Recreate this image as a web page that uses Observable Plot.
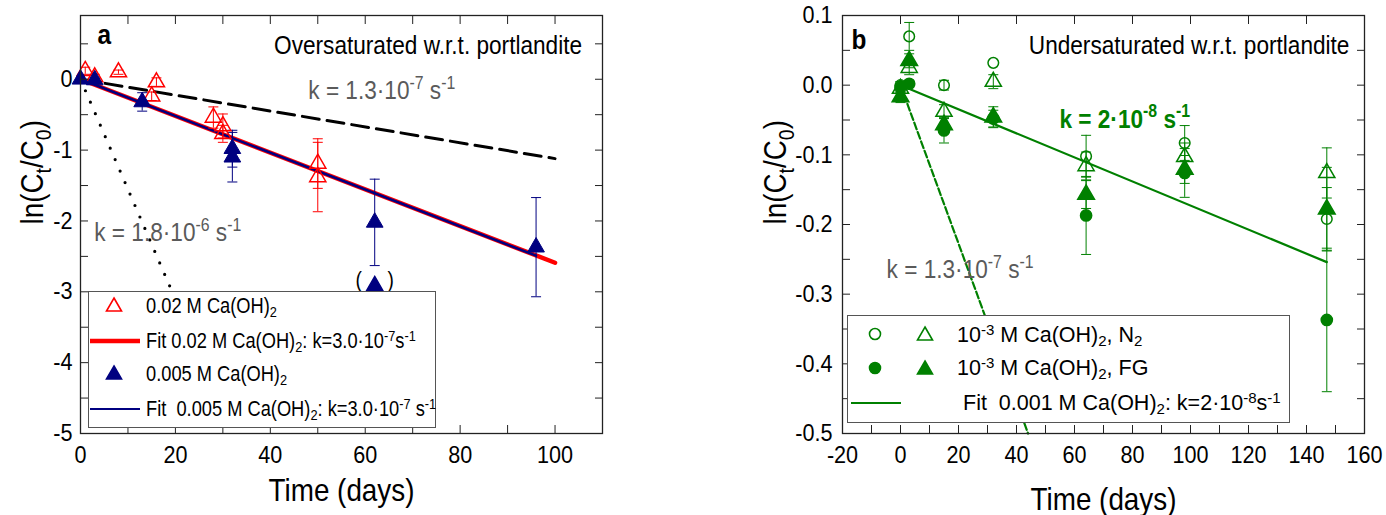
<!DOCTYPE html>
<html><head><meta charset="utf-8">
<script src="https://cdn.jsdelivr.net/npm/d3@7"></script>
<script src="https://cdn.jsdelivr.net/npm/@observablehq/plot@0.6"></script>
<style>
body{margin:0;background:#fff;}
#root{position:relative;width:1386px;height:515px;overflow:hidden;font-family:'Liberation Sans Narrow','Liberation Sans',Arial,sans-serif;color:#000;}
.panel{position:absolute;top:0;}
.legend{position:absolute;background:#fff;border:1px solid #555;box-sizing:border-box;}
.ltxt{position:absolute;white-space:nowrap;line-height:1;font-size:22px;transform:translateY(-50%) scaleX(0.83);transform-origin:0 50%;}
.ltxt.wide{transform:translateY(-50%);font-size:21.5px;}
.lsym{position:absolute;overflow:visible;}
sup{font-size:70%;vertical-align:0.45em;line-height:0;}
sub{font-size:70%;vertical-align:-0.28em;line-height:0;}
</style></head>
<body><div id="root"></div>
<script>
const FONT = "'Liberation Sans Narrow','Liberation Sans',Arial,sans-serif";
const RED = "#ff0000", NAVY = "#000080", GREEN = "#008000", GRAY = "#5a5a5a";

// ---------- Panel a data ----------
const aRedDays = [1, 3, 8, 15, 16, 28, 30, 30, 50, 50];
const aRedLn   = [0.12, 0.03, 0.10, -0.24, -0.04, -0.54, -0.66, -0.77, -1.19, -1.38];
const aRedErr  = [0.05, 0.04, 0.03, 0.06, 0.06, 0.15, 0.17, 0.12, 0.35, 0.49];
const aBlueDays = [0, 3, 13, 32, 32, 62, 96];
const aBlueLn   = [0.0, -0.01, -0.32, -0.98, -1.10, -2.02, -2.37];
const aBlueErr  = [0.0, 0.03, 0.13, 0.26, 0.35, 0.61, 0.70];
const aOutlierDays = [62];
const aOutlierLn   = [-2.92];
const aFitRedDays  = [0, 100];  const aFitRedLn  = [0, -2.59];
const aFitBlueDays = [0, 96];   const aFitBlueLn = [0, -2.49];
const aSlowDays    = [0, 100];  const aSlowLn    = [0, -1.12];
const aFastDays    = [0, 32.2]; const aFastLn    = [0, -5.0];
const aXLabels = [0, 20, 40, 60, 80, 100];
const aXTicks  = [0, 10, 20, 30, 40, 50, 60, 70, 80, 90, 100, 110];
const aYLabels = [0, -1, -2, -3, -4, -5];
const aYTicks  = [0.5, 0, -0.5, -1, -1.5, -2, -2.5, -3, -3.5, -4, -4.5, -5];

// ---------- Panel b data ----------
const bN2CircDays = [0, 3, 15, 32, 64, 98, 147];
const bN2CircLn   = [0.0, 0.07, 0.0, 0.032, -0.102, -0.083, -0.192];
const bN2CircErr  = [0.005, 0.02, 0.007, 0, 0.03, 0.025, 0.045];
const bN2TriDays  = [0, 3, 15, 32, 64, 98, 147];
const bN2TriLn    = [-0.005, 0.025, -0.038, 0.005, -0.116, -0.103, -0.126];
const bN2TriErr   = [0.005, 0.01, 0.01, 0.01, 0.02, 0.02, 0.036];
const bFGCircDays = [0, 3, 15, 32, 64, 98, 147];
const bFGCircLn   = [-0.003, 0.002, -0.065, -0.048, -0.187, -0.126, -0.337];
const bFGCircErr  = [0.008, 0.005, 0.018, 0.012, 0.056, 0.035, 0.103];
const bFGTriDays  = [0, 3, 15, 32, 64, 98, 147];
const bFGTriLn    = [-0.017, 0.035, -0.057, -0.046, -0.157, -0.121, -0.178];
const bFGTriErr   = [0.008, 0.01, 0.01, 0.015, 0.02, 0.02, 0.06];
const bFitDays  = [0, 147]; const bFitLn  = [0, -0.254];
const bFastDays = [0, 44];  const bFastLn = [0, -0.5];
const bXLabels = [-20, 0, 20, 40, 60, 80, 100, 120, 140, 160];
const bXTicks  = [-20,-10,0,10,20,30,40,50,60,70,80,90,100,110,120,130,140,150,160];
const bXTopTicks = [-20, 0, 20, 40, 60, 80, 100, 120, 140, 160];
const bYLabels = [0.1, 0, -0.1, -0.2, -0.3, -0.4, -0.5];
const bYTicks  = [0.1,0.05,0,-0.05,-0.1,-0.15,-0.2,-0.25,-0.3,-0.35,-0.4,-0.45,-0.5];

// ---------- helpers ----------
const pts = (xs, ys, es) => xs.map((x, i) => ({x, y: ys[i], e: es ? es[i] : 0}));
const caps = (data) => data.filter(d => d.e > 0).flatMap(d => [{x: d.x, y: d.y + d.e}, {x: d.x, y: d.y - d.e}]);
const capSymbol = {draw(ctx, size) { const w = Math.sqrt(size / Math.PI); ctx.moveTo(-w, 0); ctx.lineTo(w, 0); }};
function errMarks(data, color, w = 1) {
  return [
    Plot.ruleX(data.filter(d => d.e > 0), {x: "x", y1: d => d.y - d.e, y2: d => d.y + d.e, stroke: color, strokeWidth: w}),
    Plot.dot(caps(data), {x: "x", y: "y", symbol: capSymbol, r: 5, stroke: color, fill: "none", strokeWidth: w})
  ];
}
function frameAxes(xLabels, xTicks, xTopTicks, yLabels, yTicks, yFmt, yPad) {
  return [
    Plot.frame({stroke: "#222", strokeWidth: 1.3}),
    Plot.axisX(xTicks, {anchor: "bottom", tickSize: -8, tickFormat: () => "", label: null, stroke: "#222"}),
    Plot.axisX(xTopTicks, {anchor: "top", tickSize: -8, tickFormat: () => "", label: null, stroke: "#222"}),
    Plot.axisY(yTicks, {anchor: "left", tickSize: -8, tickFormat: () => "", label: null, stroke: "#222"}),
    Plot.axisY(yTicks, {anchor: "right", tickSize: -8, tickFormat: () => "", label: null, stroke: "#222"}),
    Plot.axisX(xLabels, {anchor: "bottom", tickSize: 0, tickPadding: 12, tickFormat: d => String(d), label: null, fontSize: 24, fill: "#000", className: "ticklab"}),
    Plot.axisY(yLabels, {anchor: "left", tickSize: 0, tickPadding: yPad, tickFormat: yFmt, label: null, fontSize: 24, fill: "#000", className: "ticklab"})
  ];
}
function note(text, x, y, opts) {
  return Plot.text([text], {x: [x], y: [y], text: d => d, lineAnchor: "middle", ...opts});
}
function rich(svg) {
  svg.querySelectorAll("text").forEach(t => {
    if (t.querySelector("tspan")) return;
    const s = t.textContent;
    if (!/[\^_]\{/.test(s)) return;
    const F = parseFloat(getComputedStyle(t).fontSize) || 24;
    t.textContent = "";
    let shift = 0;
    for (const p of s.split(/([\^_]\{[^}]*\})/)) {
      if (!p) continue;
      const ts = document.createElementNS("http://www.w3.org/2000/svg", "tspan");
      let target = 0, txt = p, small = false;
      if (p.startsWith("^{")) { target = -0.4 * F; txt = p.slice(2, -1); small = true; }
      else if (p.startsWith("_{")) { target = 0.25 * F; txt = p.slice(2, -1); small = true; }
      const dy = target - shift;
      if (dy) ts.setAttribute("dy", dy);
      shift = target;
      if (small) ts.setAttribute("font-size", 0.7 * F);
      ts.textContent = txt;
      t.appendChild(ts);
    }
  });
}
// Narrow-font look: compress each text horizontally (no narrow face is installed)
function condense(svg) {
  svg.querySelectorAll("text").forEach(t => {
    if (!t.textContent.trim()) return;
    const inTicks = t.closest(".ticklab") || (t.parentNode && t.parentNode.getAttribute && /ticklab/.test(t.parentNode.getAttribute("class") || ""));
    const f = inTicks ? 0.9 : 0.87;
    const L = t.getComputedTextLength();
    if (L > 0) { t.setAttribute("textLength", (L * f).toFixed(2)); t.setAttribute("lengthAdjust", "spacingAndGlyphs"); }
  });
}

// ---------- Panel a ----------
const aRed = pts(aRedDays, aRedLn, aRedErr);
const aBlue = pts(aBlueDays, aBlueLn, aBlueErr);
const plotA = Plot.plot({
  width: 693, height: 515,
  marginLeft: 80, marginRight: 91, marginTop: 15, marginBottom: 82,
  x: {domain: [0, 110]},
  y: {domain: [-5, 0.9]},
  style: {fontFamily: FONT, fontSize: "24px", color: "#000", background: "transparent", overflow: "visible"},
  marks: [
    Plot.line(pts(aFastDays, aFastLn), {x: "x", y: "y", stroke: "#000", strokeWidth: 3.2, strokeDasharray: "0,12.5", strokeLinecap: "round"}),
    Plot.line(pts(aSlowDays, aSlowLn), {x: "x", y: "y", stroke: "#000", strokeWidth: 3, strokeDasharray: "17,8"}),
    Plot.line(pts(aFitRedDays, aFitRedLn), {x: "x", y: "y", stroke: RED, strokeWidth: 4.5}),
    Plot.line(pts(aFitBlueDays, aFitBlueLn), {x: "x", y: "y", stroke: NAVY, strokeWidth: 2.5}),
    ...errMarks(aRed, RED),
    ...errMarks(aBlue, NAVY),
    Plot.dot(aRed, {x: "x", y: "y", symbol: "triangle", r: 6, stroke: RED, fill: "none", strokeWidth: 1.5}),
    Plot.dot(aBlue, {x: "x", y: "y", symbol: "triangle", r: 6.2, fill: NAVY, stroke: NAVY, strokeWidth: 1}),
    Plot.dot(pts(aOutlierDays, aOutlierLn), {x: "x", y: "y", symbol: "triangle", r: 6.2, fill: NAVY, stroke: NAVY}),
    Plot.text(pts(aOutlierDays, aOutlierLn), {x: "x", y: "y", text: () => "(", dx: -16, dy: -6, fontSize: 22, lineAnchor: "middle"}),
    Plot.text(pts(aOutlierDays, aOutlierLn), {x: "x", y: "y", text: () => ")", dx: 16, dy: -6, fontSize: 22, lineAnchor: "middle"}),
    ...frameAxes(aXLabels, aXTicks, aXTicks, aYLabels, aYTicks, d => String(d), 8),
    note("a", 3.6, 0.63, {textAnchor: "start", fontSize: 28, fontWeight: "bold"}),
    note("Oversaturated w.r.t. portlandite", 105.7, 0.476, {textAnchor: "end", fontSize: 26}),
    note("k = 1.3·10^{-7} s^{-1}", 48, -0.16, {textAnchor: "start", fontSize: 26, fill: GRAY}),
    note("k = 1.8·10^{-6} s^{-1}", 2.9, -2.17, {textAnchor: "start", fontSize: 26, fill: GRAY}),
    Plot.text(["ln(C_{t}/C_{0})"], {frameAnchor: "left", dx: -48, rotate: -90, fontSize: 32, lineAnchor: "middle", text: d => d}),
    Plot.text(["Time (days)"], {frameAnchor: "bottom", dy: 57, fontSize: 32, lineAnchor: "middle", text: d => d})
  ]
});

// ---------- Panel b ----------
const bN2C = pts(bN2CircDays, bN2CircLn, bN2CircErr);
const bN2T = pts(bN2TriDays, bN2TriLn, bN2TriErr);
const bFGC = pts(bFGCircDays, bFGCircLn, bFGCircErr);
const bFGT = pts(bFGTriDays, bFGTriLn, bFGTriErr);
const plotB = Plot.plot({
  width: 693, height: 515,
  marginLeft: 149, marginRight: 22, marginTop: 15, marginBottom: 82,
  x: {domain: [-20, 160]},
  y: {domain: [-0.5, 0.1]},
  style: {fontFamily: FONT, fontSize: "24px", color: "#000", background: "transparent", overflow: "visible"},
  marks: [
    Plot.line(pts(bFastDays, bFastLn), {x: "x", y: "y", stroke: GREEN, strokeWidth: 2.2, strokeDasharray: "7,3"}),
    Plot.line(pts(bFitDays, bFitLn), {x: "x", y: "y", stroke: GREEN, strokeWidth: 2.2}),
    ...errMarks(bN2C, GREEN), ...errMarks(bN2T, GREEN), ...errMarks(bFGC, GREEN), ...errMarks(bFGT, GREEN),
    Plot.dot(bN2C, {x: "x", y: "y", symbol: "circle", r: 5.3, stroke: GREEN, fill: "none", strokeWidth: 1.5}),
    Plot.dot(bN2T, {x: "x", y: "y", symbol: "triangle", r: 6, stroke: GREEN, fill: "none", strokeWidth: 1.5}),
    Plot.dot(bFGC, {x: "x", y: "y", symbol: "circle", r: 5.6, fill: GREEN, stroke: GREEN}),
    Plot.dot(bFGT, {x: "x", y: "y", symbol: "triangle", r: 6.2, fill: GREEN, stroke: GREEN}),
    ...frameAxes(bXLabels, bXTicks, bXTopTicks, bYLabels, bYTicks, d => d.toFixed(1), 10),
    note("b", -16.9, 0.0647, {textAnchor: "start", fontSize: 28, fontWeight: "bold"}),
    note("Undersaturated w.r.t. portlandite", 154.8, 0.0567, {textAnchor: "end", fontSize: 26}),
    note("k = 2·10^{-8} s^{-1}", 54.8, -0.049, {textAnchor: "start", fontSize: 26, fontWeight: "bold", fill: GREEN}),
    note("k = 1.3·10^{-7} s^{-1}", -4.8, -0.265, {textAnchor: "start", fontSize: 26, fill: GRAY}),
    Plot.text(["ln(C_{t}/C_{0})"], {frameAnchor: "left", dx: -67, rotate: -90, fontSize: 32, lineAnchor: "middle", text: d => d}),
    Plot.text(["Time (days)"], {frameAnchor: "bottom", dy: 66, fontSize: 32, lineAnchor: "middle", text: d => d})
  ]
});

const root = document.getElementById("root");
plotA.classList.add("panel"); plotA.style.left = "0px";
plotB.classList.add("panel"); plotB.style.left = "693px";
root.appendChild(plotA); root.appendChild(plotB);
rich(plotA); rich(plotB);
condense(plotA); condense(plotB);

// ---------- Legends (HTML overlays) ----------
function box(l, t, w, h) { const d = document.createElement("div"); d.className = "legend"; Object.assign(d.style, {left: l + "px", top: t + "px", width: w + "px", height: h + "px"}); root.appendChild(d); }
function txt(l, cy, html, cls) { const d = document.createElement("div"); d.className = "ltxt" + (cls ? " " + cls : ""); d.style.left = l + "px"; d.style.top = cy + "px"; d.innerHTML = html; root.appendChild(d); }
function sym(cx, cy, kind, color, filled) {
  const s = 20;
  const svg = document.createElementNS("http://www.w3.org/2000/svg", "svg");
  svg.setAttribute("class", "lsym"); svg.setAttribute("width", s); svg.setAttribute("height", s);
  svg.style.left = (cx - s / 2) + "px"; svg.style.top = (cy - s / 2) + "px";
  let el;
  if (kind === "tri") { el = document.createElementNS(svg.namespaceURI, "polygon"); el.setAttribute("points", "10,3 17.5,16 2.5,16"); }
  else if (kind === "circ") { el = document.createElementNS(svg.namespaceURI, "circle"); el.setAttribute("cx", 10); el.setAttribute("cy", 10); el.setAttribute("r", 5.5); }
  else { el = document.createElementNS(svg.namespaceURI, "line"); el.setAttribute("x1", -15); el.setAttribute("x2", 35); el.setAttribute("y1", 10); el.setAttribute("y2", 10); }
  el.setAttribute("stroke", color);
  el.setAttribute("stroke-width", kind === "line" ? filled : 1.6);
  el.setAttribute("fill", kind === "line" ? "none" : (filled ? color : "none"));
  svg.appendChild(el); root.appendChild(svg);
}
box(88, 291, 348, 137);
sym(114, 305, "tri", RED, false);   txt(146, 306, "0.02 M Ca(OH)<sub>2</sub>");
sym(115, 341, "line", RED, 4.5);     txt(146, 341, "Fit 0.02 M Ca(OH)<sub>2</sub>: k=3.0·10<sup>-7</sup>s<sup>-1</sup>");
sym(114, 373, "tri", NAVY, true);   txt(146, 374, "0.005 M Ca(OH)<sub>2</sub>");
sym(115, 409, "line", NAVY, 2);      txt(146, 409, "Fit&nbsp; 0.005 M Ca(OH)<sub>2</sub>: k=3.0·10<sup>-7</sup> s<sup>-1</sup>");

box(847, 315, 443, 108);
sym(875, 334, "circ", GREEN, false); sym(925, 334, "tri", GREEN, false); txt(957, 336, "10<sup>-3</sup> M Ca(OH)<sub>2</sub>, N<sub>2</sub>", "wide");
sym(875, 368, "circ", GREEN, true);  sym(925, 368, "tri", GREEN, true);  txt(957, 369, "10<sup>-3</sup> M Ca(OH)<sub>2</sub>, FG", "wide");
sym(876, 403, "line", GREEN, 2.2);   txt(963, 404, "Fit&nbsp; 0.001 M Ca(OH)<sub>2</sub>: k=2·10<sup>-8</sup>s<sup>-1</sup>", "wide");
</script>
</body></html>
